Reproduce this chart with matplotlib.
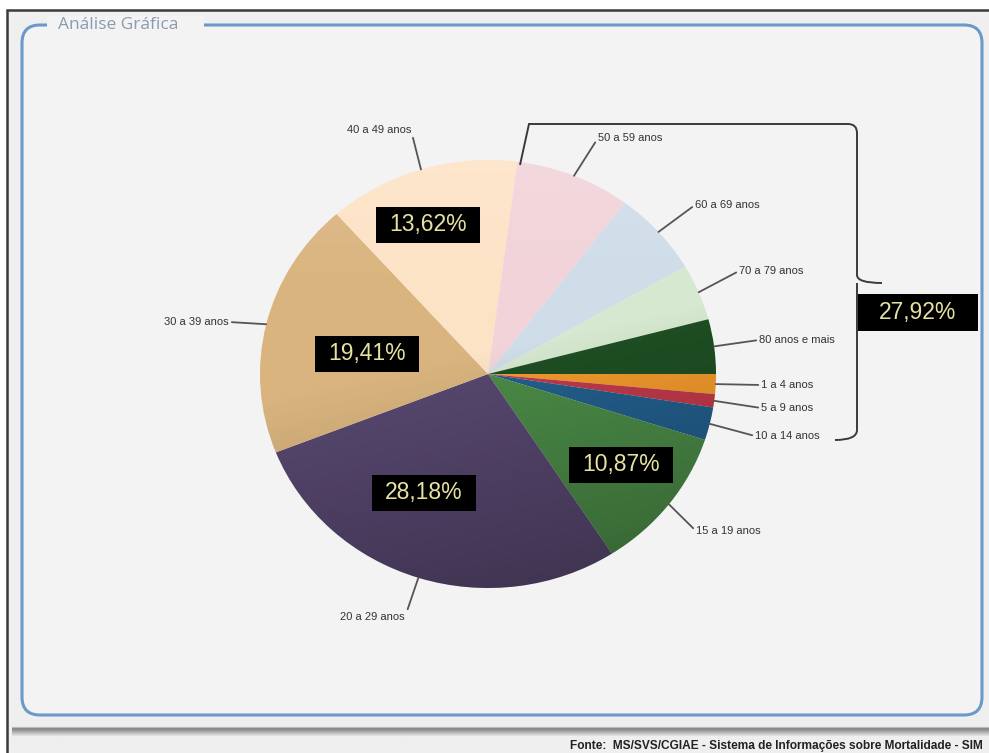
import numpy as np
import matplotlib
matplotlib.use("Agg")
import matplotlib.pyplot as plt
from matplotlib.patches import Rectangle, FancyBboxPatch, Ellipse, PathPatch
from matplotlib.path import Path

# Óbitos por faixa etária (%)
age_groups = ["1 a 4 anos", "5 a 9 anos", "10 a 14 anos", "15 a 19 anos",
              "20 a 29 anos", "30 a 39 anos", "40 a 49 anos", "50 a 59 anos",
              "60 a 69 anos", "70 a 79 anos", "80 anos e mais"]
shares = [1.50, 1.00, 2.48, 10.87, 28.18, 19.41, 13.62, 8.19, 6.39, 4.24, 4.12]
slice_colors = ["#f39a2c", "#c23a4a", "#225f8c", "#4b8b47", "#57476f",
                "#d9b47e", "#fde3c6", "#f1d3d9", "#cfdde9", "#d6e8cf", "#1f4f23"]
boxed_groups = ["15 a 19 anos", "20 a 29 anos", "30 a 39 anos", "40 a 49 anos"]
grouped = ["50 a 59 anos", "60 a 69 anos", "70 a 79 anos", "80 anos e mais",
           "1 a 4 anos", "5 a 9 anos", "10 a 14 anos"]

W, H = 989, 753
fig = plt.figure(figsize=(W / 100, H / 100), dpi=100)
fig.patch.set_facecolor("white")

# background axes in pixel units
bg = fig.add_axes([0, 0, 1, 1])
bg.set_xlim(0, W)
bg.set_ylim(H, 0)
bg.axis("off")

bg.add_patch(Rectangle((7, 10), W + 20, H + 20, fc="#efefef", ec="#3a3a3a", lw=1.8))
bg.add_patch(FancyBboxPatch((22, 25), 960, 690,
                            boxstyle="round,pad=0,rounding_size=18",
                            fc="#f3f3f3", ec="#6a9acb", lw=2.2))
bg.add_patch(Rectangle((47, 16), 157, 18, fc="#f3f3f3", ec="none", zorder=3))
bg.text(58, 25, "Análise Gráfica", ha="left", va="center", fontsize=12.5,
        color="#8a9bb0", family="Open Sans", zorder=4)

# shadow band under the panel
band = np.concatenate([np.linspace(0.92, 0.55, 3), np.linspace(0.55, 0.93, 8)])
band_img = np.repeat(band[:, None], 10, axis=1)
bg.imshow(band_img, cmap="gray", vmin=0, vmax=1, extent=(12, W, 737, 726),
          aspect="auto", interpolation="bilinear", zorder=2)

bg.text(983, 746, "Fonte:  MS/SVS/CGIAE - Sistema de Informações sobre Mortalidade - SIM",
        ha="right", va="center", fontsize=8.6, fontweight="bold",
        family="Liberation Sans", color="#222222")

# pie axes (slightly elliptical, as drawn)
cx, cy, rx, ry = 488, 374, 228, 214
pax = fig.add_axes([(cx - rx) / W, 1 - (cy + ry) / H, 2 * rx / W, 2 * ry / H])
wedges, _ = pax.pie(shares, colors=slice_colors, startangle=0, counterclock=False,
                    radius=1, wedgeprops=dict(linewidth=0))
pax.set_xlim(-1, 1)
pax.set_ylim(-1, 1)
pax.set_aspect("auto")
pax.axis("off")

# soft shading over the pie
yy = np.linspace(-1, 1, 300)[:, None]
xx = np.linspace(-1, 1, 300)[None, :]
dark = np.clip((-0.85 * yy + 0.2 * xx + 0.1), 0, 1) * 0.26
light = np.clip(0.9 * yy - 0.35, 0, 1) * 0.22
shade = np.zeros((300, 300, 4))
shade[..., 3] = dark
lite = np.ones((300, 300, 4))
lite[..., 3] = light
clip = Ellipse((0, 0), 2, 2, transform=pax.transData)
for img in (shade, lite):
    im = pax.imshow(img, extent=(-1, 1, -1, 1), origin="lower", aspect="auto",
                    interpolation="bilinear", zorder=2)
    im.set_clip_path(clip)
pax.set_xlim(-1, 1)
pax.set_ylim(-1, 1)


def to_pie(px, py):
    return (px - cx) / rx, (cy - py) / ry


label_pos = {
    "40 a 49 anos": (411, 130, "right"),
    "50 a 59 anos": (598, 138, "left"),
    "60 a 69 anos": (695, 205, "left"),
    "70 a 79 anos": (739, 271, "left"),
    "80 anos e mais": (759, 340, "left"),
    "1 a 4 anos": (761, 385, "left"),
    "5 a 9 anos": (761, 408, "left"),
    "10 a 14 anos": (755, 436, "left"),
    "15 a 19 anos": (696, 531, "left"),
    "20 a 29 anos": (405, 617, "right"),
    "30 a 39 anos": (229, 322, "right"),
}
box_pos = {
    "40 a 49 anos": (428, 225),
    "30 a 39 anos": (367, 354),
    "20 a 29 anos": (424, 493),
    "15 a 19 anos": (621, 465),
}


def fmt(v):
    return f"{v:.2f}".replace(".", ",") + "%"


cum = 0.0
for name, v in zip(age_groups, shares):
    ang = np.deg2rad(-(cum + v / 2) * 3.6)
    cum += v
    px, py, ha = label_pos[name]
    rel = (1, 0.5) if ha == "right" else (0, 0.5)
    pax.annotate(name, xy=(np.cos(ang), np.sin(ang)), xytext=to_pie(px, py),
                 textcoords="data", ha=ha, va="center", fontsize=8,
                 color="#333333", family="Liberation Sans", annotation_clip=False,
                 arrowprops=dict(arrowstyle="-", color="#555555", lw=1.3,
                                 shrinkA=0, shrinkB=0, relpos=rel), zorder=5)
    if name in box_pos:
        bx, by = to_pie(*box_pos[name])
        bw, bh = 104 / rx, 36 / ry
        pax.add_patch(Rectangle((bx - bw / 2, by - bh / 2), bw, bh, fc="black",
                                ec="none", zorder=6, clip_on=False))
        pax.text(bx, by, fmt(v), ha="center", va="center", fontsize=16.5,
                 color="#e6e3a0", family="Liberation Sans", zorder=7)

# bracket grouping the smaller age groups
grouped_total = sum(v for n, v in zip(age_groups, shares) if n in grouped)
verts = [(520, 165), (529, 124), (848, 124), (857, 124), (857, 133),
         (857, 275), (857, 283), (882, 283),
         (857, 283), (857, 291), (857, 430), (857, 440), (835, 440)]
codes = [Path.MOVETO, Path.LINETO, Path.LINETO, Path.CURVE3, Path.CURVE3,
         Path.LINETO, Path.CURVE3, Path.CURVE3,
         Path.MOVETO, Path.CURVE3, Path.LINETO, Path.CURVE3, Path.CURVE3]
pax.add_patch(PathPatch(Path(verts, codes), transform=bg.transData, fc="none",
                        ec="#3a3a3a", lw=1.4, clip_on=False, zorder=5))
gx, gy = to_pie(918, 313)
gw, gh = 120 / rx, 37 / ry
pax.add_patch(Rectangle((gx - gw / 2, gy - gh / 2), gw, gh, fc="black", ec="none",
                        zorder=6, clip_on=False))
pax.text(gx, gy, fmt(grouped_total), ha="center", va="center", fontsize=16.5,
         color="#e6e3a0", family="Liberation Sans", zorder=7)

fig.savefig("out.png", dpi=100, facecolor=fig.get_facecolor())
